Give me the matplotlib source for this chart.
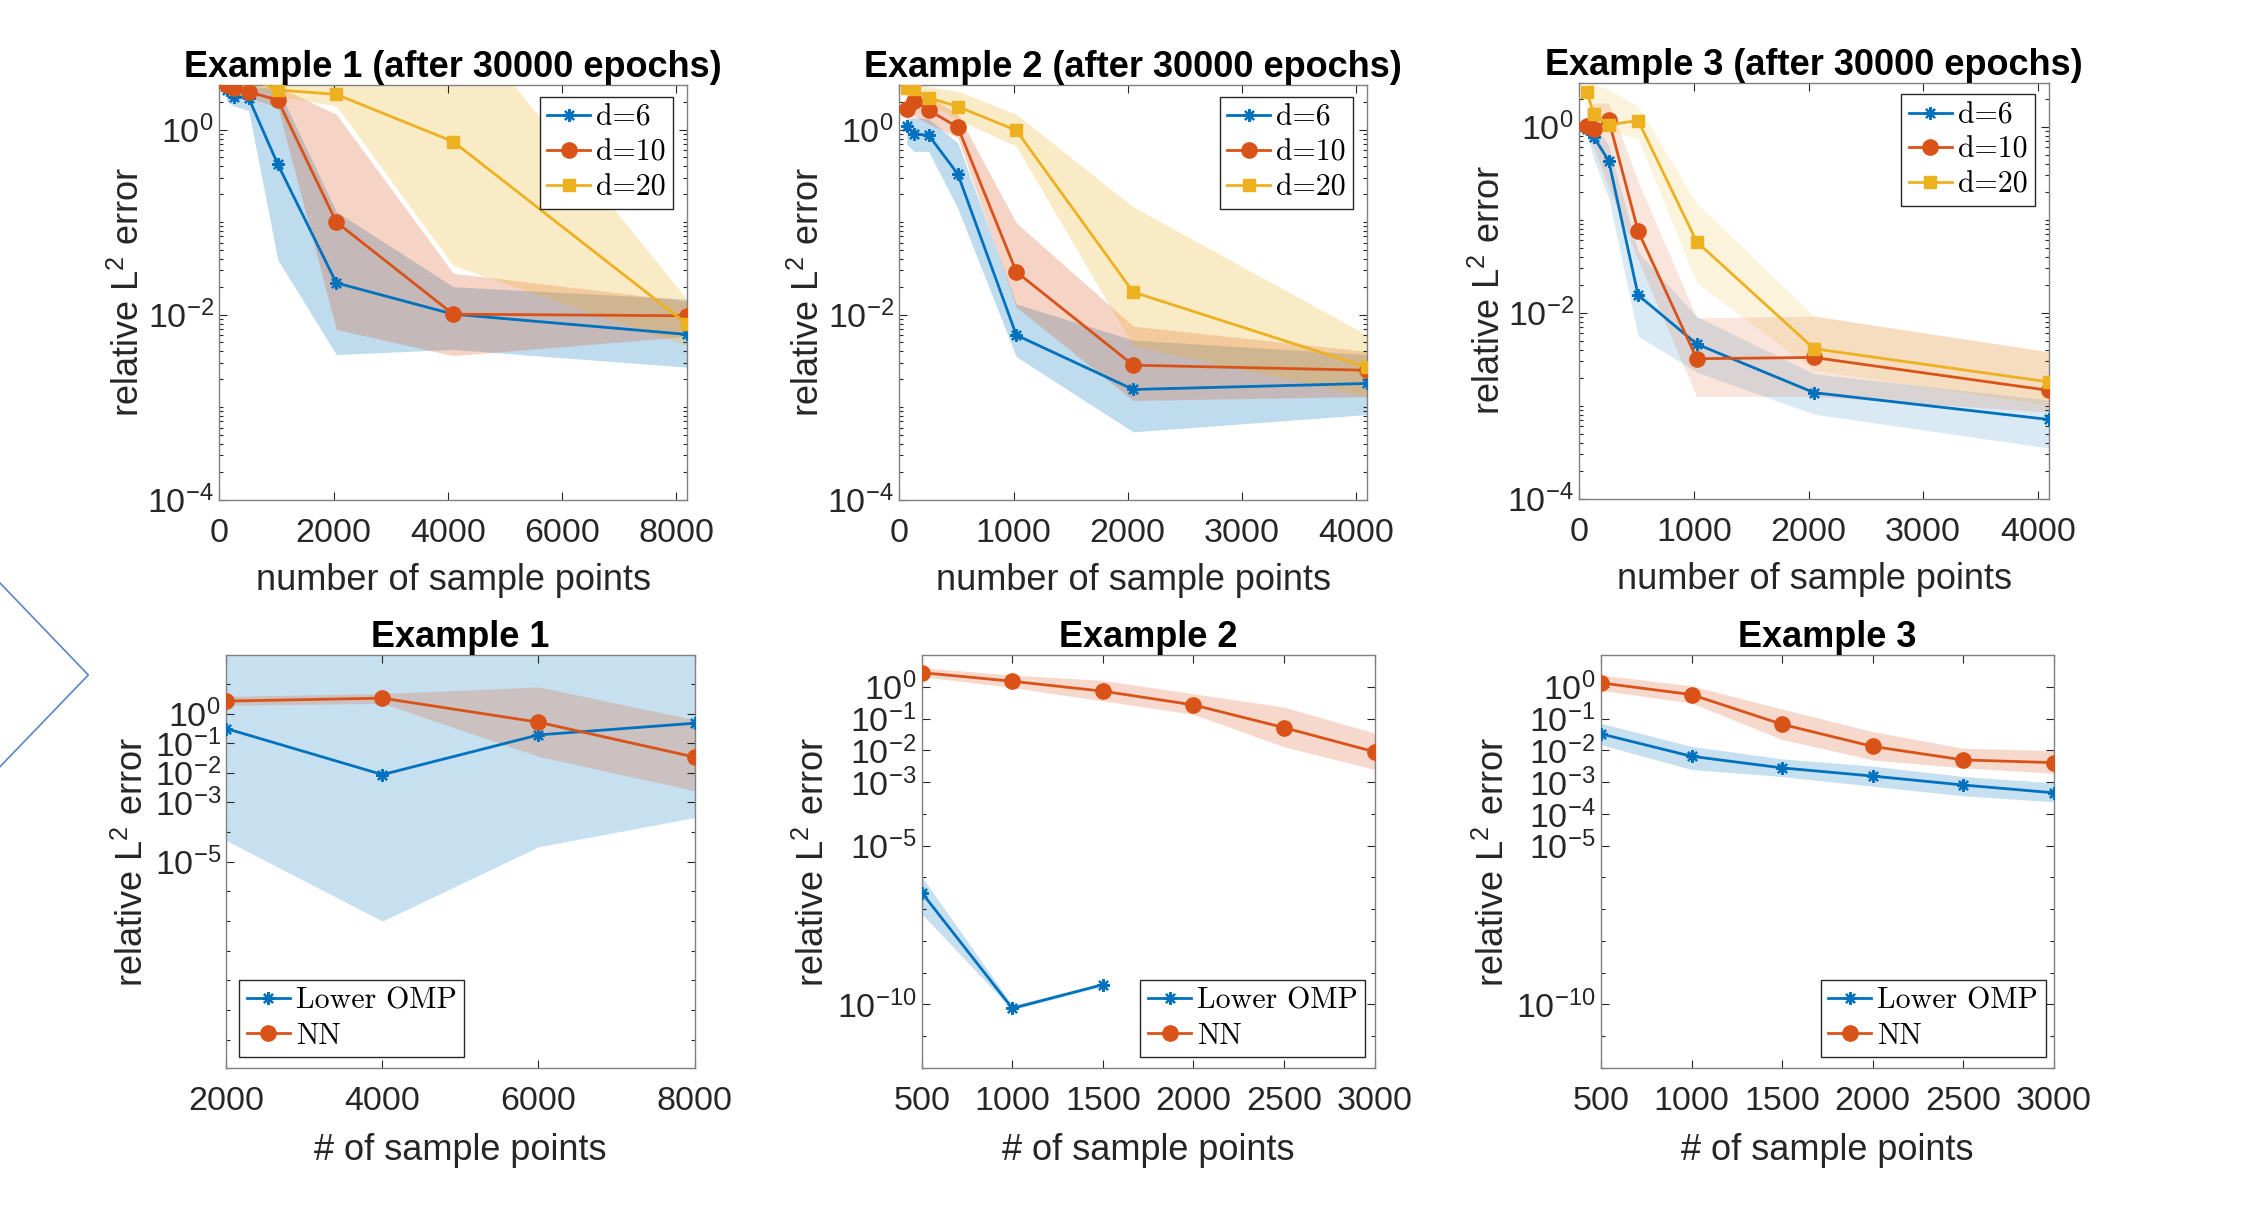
import numpy as np
import matplotlib
matplotlib.use("Agg")
import matplotlib.pyplot as plt
from matplotlib.ticker import LogLocator, NullFormatter, LogFormatterSciNotation
from matplotlib.font_manager import FontProperties
from matplotlib.lines import Line2D

plt.rcParams['font.family'] = ['Liberation Sans', 'DejaVu Sans']
plt.rcParams['mathtext.fontset'] = 'custom'
plt.rcParams['mathtext.rm'] = 'Liberation Sans'
plt.rcParams['mathtext.it'] = 'Liberation Sans:italic'
plt.rcParams['mathtext.bf'] = 'Liberation Sans:bold'

BLUE, RED, YELLOW = '#0072BD', '#D95319', '#EDB120'

# ---- top row: relative error vs number of sample points, d = 6 / 10 / 20
n_ex1 = [128, 256, 512, 1024, 2048, 4096, 8192]
ex1_d6 = [2.7, 2.27, 2.2, 0.42, 0.022, 0.0101, 0.0061]
ex1_d6_lo = [2.0, 1.8, 1.6, 0.039, 0.0037, 0.0042, 0.0027]
ex1_d6_hi = [3.2, 3.0, 2.9, 2.8, 0.13, 0.02, 0.0147]
ex1_d10 = [3.05, 2.79, 2.56, 2.08, 0.1, 0.0101, 0.0097]
ex1_d10_lo = [2.6, 2.4, 2.2, 1.75, 0.0069, 0.0036, 0.0058]
ex1_d10_hi = [3.4, 3.2, 3.0, 2.9, 1.46, 0.028, 0.014]
ex1_d20 = [4.0, 3.8, 3.6, 2.68, 2.4, 0.74, 0.0079]
ex1_d20_lo = [3.4, 3.2, 3.0, 2.3, 1.8, 0.034, 0.0046]
ex1_d20_hi = [5.0, 5.0, 5.0, 5.0, 5.0, 19.6, 0.0146]

n_ex2 = [64, 128, 256, 512, 1024, 2048, 4096]
ex2_d6 = [1.1, 0.89, 0.87, 0.33, 0.006, 0.00155, 0.0018]
ex2_d6_lo = [0.69, 0.58, 0.58, 0.14, 0.0035, 0.00054, 0.00083]
ex2_d6_hi = [1.28, 1.35, 1.3, 0.72, 0.013, 0.0053, 0.0037]
ex2_d10 = [1.65, 2.05, 1.62, 1.06, 0.029, 0.00284, 0.0025]
ex2_d10_lo = [1.28, 1.4, 1.15, 0.82, 0.012, 0.00118, 0.0013]
ex2_d10_hi = [2.2, 2.7, 2.3, 1.46, 0.098, 0.0075, 0.004]
ex2_d20 = [2.84, 2.75, 2.21, 1.77, 0.98, 0.0175, 0.0027]
ex2_d20_lo = [2.5, 2.4, 1.9, 1.28, 0.66, 0.0046, 0.0013]
ex2_d20_hi = [3.1, 3.1, 2.9, 2.6, 1.46, 0.146, 0.006]

n_ex3 = [64, 128, 256, 512, 1024, 2048, 4096]
ex3_d6 = [0.94, 0.77, 0.43, 0.0155, 0.0046, 0.00138, 0.00071]
ex3_d6_lo = [0.82, 0.44, 0.17, 0.0056, 0.0023, 0.00081, 0.00035]
ex3_d6_hi = [1.12, 1.07, 0.63, 0.045, 0.0091, 0.0022, 0.00115]
ex3_d10 = [1.03, 0.94, 1.19, 0.076, 0.0032, 0.0033, 0.00146]
ex3_d10_lo = [0.82, 0.58, 0.22, 0.037, 0.00126, 0.00126, 0.00085]
ex3_d10_hi = [1.53, 1.8, 1.8, 0.26, 0.0088, 0.0092, 0.0038]
ex3_d20 = [2.37, 1.36, 1.05, 1.17, 0.058, 0.0041, 0.0018]
ex3_d20_lo = [1.53, 1.17, 0.9, 0.75, 0.021, 0.0024, 0.00101]
ex3_d20_hi = [3.1, 2.9, 2.5, 1.67, 0.15, 0.0092, 0.0038]

# ---- bottom row: Lower OMP vs NN
m_ex1 = [2000, 4000, 6000, 8000]
b1_omp = [0.31, 0.0087, 0.19, 0.47]
b1_omp_lo = [5.2e-5, 1e-7, 3.2e-5, 3.1e-4]
b1_omp_hi = [500, 500, 500, 500]
b1_nn = [2.63, 3.3, 0.51, 0.034]
b1_nn_lo = [1.9, 2.2, 0.036, 0.0025]
b1_nn_hi = [3.8, 4.7, 7.9, 0.62]

m_ex23 = [500, 1000, 1500, 2000, 2500, 3000]
nan = np.nan
b2_omp = [3.3e-7, 7.5e-11, 4.2e-10, nan, nan, nan]
b2_omp_lo = [7e-8, 6.8e-11, 3.7e-10, nan, nan, nan]
b2_omp_hi = [1.05e-6, 9.5e-11, 4.5e-10, nan, nan, nan]
b2_nn = [2.8, 1.5, 0.73, 0.27, 0.052, 0.009]
b2_nn_lo = [2.1, 0.95, 0.36, 0.136, 0.013, 0.0025]
b2_nn_hi = [4.0, 2.35, 1.6, 0.61, 0.23, 0.035]

b3_omp = [0.033, 0.0065, 0.0028, 0.00155, 0.00081, 0.00046]
b3_omp_lo = [0.015, 0.0025, 0.0015, 0.00074, 0.00037, 0.00024]
b3_omp_hi = [0.071, 0.0133, 0.0054, 0.0032, 0.0015, 0.00095]
b3_nn = [1.33, 0.57, 0.066, 0.0133, 0.005, 0.0041]
b3_nn_lo = [0.77, 0.31, 0.022, 0.005, 0.0028, 0.0019]
b3_nn_hi = [2.35, 1.08, 0.2, 0.039, 0.0117, 0.0098]

W, H = 2257, 1211
fig = plt.figure(figsize=(W / 100, H / 100), dpi=100)


def make_axes(l, t, r, b):
    return fig.add_axes([l / W, 1 - b / H, (r - l) / W, (b - t) / H])


MK = {'blue': dict(marker=(8, 2, 0), ms=9, mew=1.6),
      'red': dict(marker='o', ms=11),
      'yellow': dict(marker='s', ms=9)}


def series(ax, x, y, lo, hi, color, mk, alpha, label):
    ax.fill_between(x, lo, hi, color=color, alpha=alpha, lw=0, zorder=1)
    ax.plot(x, y, color=color, lw=2, mfc=color, mec=color, label=label,
            zorder=3, **MK[mk])


def style(ax, xticks, yticks, ylim, minor_subs):
    ax.set_yscale('log')
    ax.set_ylim(*ylim)
    ax.set_xticks(xticks)
    ax.set_yticks(yticks)
    ax.yaxis.set_major_formatter(LogFormatterSciNotation())
    ax.yaxis.set_minor_locator(LogLocator(base=10, subs=minor_subs, numticks=200))
    ax.yaxis.set_minor_formatter(NullFormatter())
    ax.tick_params(which='both', direction='in', top=True, right=True,
                   colors='#262626', labelsize=24.5, width=0.8)
    ax.tick_params(axis='x', which='major', pad=13, length=6)
    ax.tick_params(axis='y', which='major', pad=4, length=6)
    ax.tick_params(which='minor', length=3)
    for s in ax.spines.values():
        s.set_color('#808080')
        s.set_linewidth(1.0)


leg_fp = FontProperties(family='cmr10', size=21.5)
leg_kw = dict(prop=leg_fp, fancybox=False, edgecolor='#262626', framealpha=1,
              handlelength=1.45, handletextpad=0.2, labelspacing=0.25,
              borderpad=0.25, borderaxespad=0)

# ---------------- top row
top_boxes = [(219.4, 85.4, 687, 499.6), (899.4, 85.4, 1367, 499.6),
             (1579.4, 82.5, 2048.7, 498.6)]
top_data = [
    (n_ex1, [(ex1_d6, ex1_d6_lo, ex1_d6_hi), (ex1_d10, ex1_d10_lo, ex1_d10_hi),
             (ex1_d20, ex1_d20_lo, ex1_d20_hi)], 8192, [0, 2000, 4000, 6000, 8000], 0.25),
    (n_ex2, [(ex2_d6, ex2_d6_lo, ex2_d6_hi), (ex2_d10, ex2_d10_lo, ex2_d10_hi),
             (ex2_d20, ex2_d20_lo, ex2_d20_hi)], 4096, [0, 1000, 2000, 3000, 4000], 0.25),
    (n_ex3, [(ex3_d6, ex3_d6_lo, ex3_d6_hi), (ex3_d10, ex3_d10_lo, ex3_d10_hi),
             (ex3_d20, ex3_d20_lo, ex3_d20_hi)], 4096, [0, 1000, 2000, 3000, 4000], 0.15),
]
top_ylab_x = [-0.154, -0.154, -0.153]
for i, (box, (x, sets, xmax, xt, alpha)) in enumerate(zip(top_boxes, top_data)):
    ax = make_axes(*box)
    for (y, lo, hi), c, mk, lab in zip(sets, [BLUE, RED, YELLOW],
                                      ['blue', 'red', 'yellow'],
                                      ['d=6', 'd=10', 'd=20']):
        series(ax, x, y, lo, hi, c, mk, alpha, lab)
    style(ax, xt, [1e-4, 1e-2, 1], (1e-4, 3), 'all')
    ax.set_xlim(0, xmax)
    ax.set_title(f'Example {i + 1} (after 30000 epochs)', fontsize=26,
                 fontweight='bold', pad=5)
    ax.set_xlabel('number of sample points', fontsize=26, color='#262626')
    ax.set_ylabel('relative L$^2$ error', fontsize=26, color='#262626')
    ax.xaxis.set_label_coords(0.5, -0.152)
    ax.yaxis.set_label_coords(top_ylab_x[i], 0.5)
    ax.legend(loc='upper right', bbox_to_anchor=(0.971, 0.972), **leg_kw)

# ---------------- bottom row
bot_boxes = [(226.4, 655.4, 694.5, 1067.9), (921.8, 655.4, 1374.5, 1067.9),
             (1601, 655.4, 2053.7, 1067.9)]
bot_data = [
    (m_ex1, (b1_omp, b1_omp_lo, b1_omp_hi), (b1_nn, b1_nn_lo, b1_nn_hi),
     [2000, 4000, 6000, 8000], [1e-5, 1e-3, 1e-2, 1e-1, 1], (10 ** -11.95, 10 ** 1.96),
     'all', -0.162, ('lower left', (0.027, 0.026))),
    (m_ex23, (b2_omp, b2_omp_lo, b2_omp_hi), (b2_nn, b2_nn_lo, b2_nn_hi),
     [500, 1000, 1500, 2000, 2500, 3000], [1e-10, 1e-5, 1e-3, 1e-2, 1e-1, 1],
     (1e-12, 10 ** 0.99), (1.0,), -0.198, ('lower right', (0.98, 0.026))),
    (m_ex23, (b3_omp, b3_omp_lo, b3_omp_hi), (b3_nn, b3_nn_lo, b3_nn_hi),
     [500, 1000, 1500, 2000, 2500, 3000], [1e-10, 1e-5, 1e-4, 1e-3, 1e-2, 1e-1, 1],
     (1e-12, 10 ** 0.99), (1.0,), -0.196, ('lower right', (0.982, 0.026))),
]
for i, (box, (x, omp, nn, xt, yt, yl, subs, ylx, (loc, anchor))) in enumerate(zip(bot_boxes, bot_data)):
    ax = make_axes(*box)
    series(ax, x, omp[0], omp[1], omp[2], BLUE, 'blue', 0.22, 'Lower OMP')
    series(ax, x, nn[0], nn[1], nn[2], RED, 'red', 0.22, 'NN')
    style(ax, xt, yt, yl, subs)
    ax.set_xlim(xt[0], xt[-1])
    ax.set_title(f'Example {i + 1}', fontsize=26, fontweight='bold', pad=5)
    ax.set_xlabel('# of sample points', fontsize=26, color='#262626')
    ax.set_ylabel('relative L$^2$ error', fontsize=26, color='#262626')
    ax.xaxis.set_label_coords(0.5, -0.157)
    ax.yaxis.set_label_coords(ylx, 0.5)
    ax.legend(loc=loc, bbox_to_anchor=anchor, **leg_kw)

# slide chevron on the left edge
fig.add_artist(Line2D([0, 88.3 / W, 0], [1 - 583 / H, 1 - 675 / H, 1 - 766.7 / H],
                      color='#5b86c5', lw=1.2, transform=fig.transFigure))

fig.savefig('out.png', dpi=100, facecolor='white')
